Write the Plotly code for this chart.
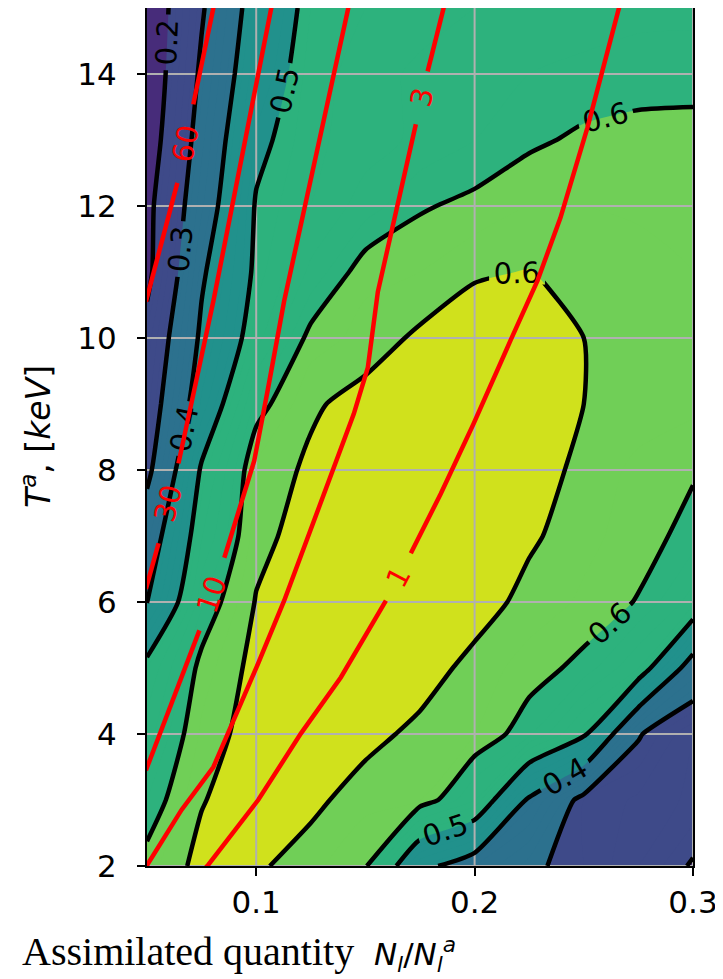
import math
import plotly.graph_objects as go

# ---------------- data ----------------
# grid of the assimilation efficiency map
x_grid = [0.05, 0.075, 0.1, 0.125, 0.15, 0.175, 0.2, 0.225, 0.25, 0.275, 0.3]
T_grid = [2, 3, 4, 5, 6, 7, 8, 9, 10, 11, 12, 13, 14, 15]

eff_T02 = [0.612, 0.650, 0.645, 0.625, 0.605, 0.420, 0.360, 0.310, 0.280, 0.240, 0.195]
eff_T03 = [0.580, 0.638, 0.660, 0.648, 0.625, 0.620, 0.560, 0.390, 0.280, 0.255, 0.235]
eff_T04 = [0.550, 0.624, 0.655, 0.660, 0.650, 0.632, 0.620, 0.585, 0.510, 0.305, 0.240]
eff_T05 = [0.520, 0.610, 0.650, 0.660, 0.665, 0.655, 0.630, 0.612, 0.592, 0.540, 0.360]
eff_T06 = [0.398, 0.577, 0.642, 0.660, 0.670, 0.670, 0.655, 0.630, 0.617, 0.598, 0.550]
eff_T07 = [0.350, 0.538, 0.630, 0.655, 0.675, 0.680, 0.670, 0.645, 0.625, 0.612, 0.590]
eff_T08 = [0.280, 0.508, 0.625, 0.645, 0.665, 0.675, 0.675, 0.655, 0.632, 0.615, 0.603]
eff_T09 = [0.250, 0.445, 0.587, 0.636, 0.650, 0.665, 0.670, 0.665, 0.640, 0.630, 0.625]
eff_T10 = [0.225, 0.413, 0.531, 0.610, 0.627, 0.645, 0.655, 0.655, 0.640, 0.625, 0.620]
eff_T11 = [0.180, 0.390, 0.511, 0.565, 0.615, 0.620, 0.637, 0.641, 0.630, 0.625, 0.620]
eff_T12 = [0.178, 0.355, 0.505, 0.540, 0.570, 0.597, 0.607, 0.620, 0.620, 0.618, 0.615]
eff_T13 = [0.155, 0.333, 0.485, 0.535, 0.550, 0.565, 0.580, 0.595, 0.605, 0.610, 0.610]
eff_T14 = [0.142, 0.312, 0.457, 0.530, 0.550, 0.565, 0.575, 0.580, 0.585, 0.588, 0.590]
eff_T15 = [0.140, 0.292, 0.437, 0.520, 0.540, 0.550, 0.560, 0.565, 0.570, 0.575, 0.575]

# contour levels
black_levels = [0.2, 0.3, 0.4, 0.5, 0.6]
top_level = 0.64          # boundary of the yellow region (labelled "0.6")
band_edges = [0.2, 0.3, 0.4, 0.5, 0.6, 0.64]

# red iso-lines (None = label gap)
red_levels = [60, 30, 10, 3, 1]
red_60_x = [0.0807, 0.0712, None, 0.0639, 0.0507, 0.0495]
red_60_y = [15.05, 13.54, None, 12.35, 10.71, 10.55]
red_30_x = [0.1075, 0.0804, 0.0644, None, 0.0553, 0.0495]
red_30_y = [15.10, 10.56, 8.10, None, 6.89, 6.20]
red_10_x = [0.1425, 0.1128, 0.1055, 0.0991, 0.0854, None, 0.0740, 0.0495]
red_10_y = [15.05, 10.56, 9.25, 8.14, 6.67, None, 5.57, 3.45]
red_3_x = [0.1862, 0.1785, None, 0.1731, 0.1557, 0.1511, 0.1447, 0.1128, 0.1009, 0.0804, 0.0658, 0.0507, 0.0495]
red_3_y = [15.05, 14.04, None, 13.24, 10.70, 9.55, 8.85, 6.02, 5.07, 3.50, 2.85, 2.05, 1.98]
red_1_x = [0.2665, 0.2516, 0.2393, 0.2288, 0.2164, 0.1995, 0.1845, 0.1708, None, 0.1594, 0.1388, 0.1205, 0.1009, 0.0781, 0.0770]
red_1_y = [15.05, 13.18, 11.82, 10.87, 9.96, 8.70, 7.64, 6.74, None, 6.02, 4.86, 4.01, 3.00, 2.02, 1.98]

x_ticks = [0.1, 0.2, 0.3]
y_ticks = [2, 4, 6, 8, 10, 12, 14]
x_range = [0.05, 0.3]
y_range = [2, 15]

# ---------------- styling ----------------
band_colors = ['#472c7a', '#3e4a89', '#2c718e', '#21918c', '#2db27d', '#70cf57', '#d0e11c']
FONT = 'DejaVu Sans'
PAGE_OFF = 8                      # default body margin of the page
W, H = 723 - PAGE_OFF, 979 - PAGE_OFF
ML, MR, MT = 147 - PAGE_OFF, 30, 0
plot_w = W - ML - MR
plot_h = 866 - PAGE_OFF - MT
MB = H - MT - plot_h

z = [eff_T02, eff_T03, eff_T04, eff_T05, eff_T06, eff_T07, eff_T08,
     eff_T09, eff_T10, eff_T11, eff_T12, eff_T13, eff_T14, eff_T15]

fill_start, fill_end, fill_step = 0.2, top_level, 0.02
lo = fill_start - fill_step / 2
hi = fill_end + fill_step / 2


def norm(v):
    return (v - lo) / (hi - lo)


colorscale = [[0.0, band_colors[0]]]
for i, edge in enumerate(band_edges):
    s = norm(edge)
    colorscale.append([s, band_colors[i]])
    colorscale.append([s, band_colors[i + 1]])
colorscale.append([1.0, band_colors[-1]])

SMOOTH = 0.6
LW = 4.5
fig = go.Figure()

# filled bands
fig.add_trace(go.Contour(
    x=x_grid, y=T_grid, z=z, autocontour=False,
    contours=dict(start=fill_start, end=fill_end, size=fill_step,
                  coloring='fill', showlines=False),
    colorscale=colorscale, showscale=False,
    line=dict(width=0, smoothing=SMOOTH), hoverinfo='skip'))

# grid lines (above the fill, below the contour lines)
gx, gy = [], []
for xv in x_ticks:
    gx += [xv, xv, None]
    gy += [y_range[0], y_range[1], None]
for yv in y_ticks:
    gx += [x_range[0], x_range[1], None]
    gy += [yv, yv, None]
fig.add_trace(go.Scatter(x=gx, y=gy, mode='lines',
                         line=dict(color='#b0b0b0', width=2),
                         hoverinfo='skip', showlegend=False))

# black labelled contour lines (overlay subplot, drawn on top)
lab_font = dict(family=FONT, size=29, color='black')
fig.add_trace(go.Contour(
    x=x_grid, y=T_grid, z=z, autocontour=False, xaxis='x2', yaxis='y2',
    contours=dict(start=black_levels[0], end=black_levels[-1],
                  size=round(black_levels[1] - black_levels[0], 3),
                  coloring='lines', showlabels=True, labelformat='.1f',
                  labelfont=lab_font),
    colorscale=[[0, 'black'], [1, 'black']], showscale=False,
    line=dict(width=LW, smoothing=SMOOTH), hoverinfo='skip'))
fig.add_trace(go.Contour(
    x=x_grid, y=T_grid, z=z, autocontour=False, xaxis='x2', yaxis='y2',
    contours=dict(start=top_level, end=top_level, size=0.1,
                  coloring='lines', showlabels=True, labelformat='.1f',
                  labelfont=lab_font),
    colorscale=[[0, 'black'], [1, 'black']], showscale=False,
    line=dict(width=LW, smoothing=SMOOTH), hoverinfo='skip'))

# red iso-lines with inline labels
kx = plot_w / (x_range[1] - x_range[0])
ky = plot_h / (y_range[1] - y_range[0])
red_curves = [(red_60_x, red_60_y), (red_30_x, red_30_y), (red_10_x, red_10_y),
              (red_3_x, red_3_y), (red_1_x, red_1_y)]
for lev, (rx, ry) in zip(red_levels, red_curves):
    fig.add_trace(go.Scatter(x=rx, y=ry, mode='lines', xaxis='x2', yaxis='y2',
                             line=dict(color='red', width=LW),
                             connectgaps=False, hoverinfo='skip', showlegend=False))
    g = rx.index(None)
    xa, ya, xb, yb = rx[g - 1], ry[g - 1], rx[g + 1], ry[g + 1]
    ang = math.degrees(math.atan2((yb - ya) * ky, (xb - xa) * kx))
    if ang > 90:
        ang -= 180
    if ang < -90:
        ang += 180
    fig.add_annotation(x=(xa + xb) / 2, y=(ya + yb) / 2, xref='x', yref='y',
                       text=str(lev), showarrow=False, textangle=-ang,
                       font=dict(family=FONT, size=29, color='red'))

axis_common = dict(showgrid=False, zeroline=False, showline=True, mirror=True,
                   linecolor='black', linewidth=2, ticks='outside', ticklen=8,
                   tickwidth=2, tickcolor='black',
                   tickfont=dict(family=FONT, size=31, color='black'))
fig.update_layout(
    width=W, height=H, margin=dict(l=ML, r=MR, t=MT, b=MB, autoexpand=False),
    paper_bgcolor='white', plot_bgcolor='white', showlegend=False,
    xaxis=dict(range=x_range, tickvals=x_ticks, ticktext=['0.1', '0.2', '0.3'], **axis_common),
    yaxis=dict(range=y_range, tickvals=y_ticks, ticklabelstandoff=14, **axis_common),
    xaxis2=dict(range=x_range, overlaying='x', visible=False),
    yaxis2=dict(range=y_range, overlaying='y', visible=False),
)

# axis titles
fig.add_annotation(
    xref='paper', yref='paper', x=(36 - PAGE_OFF - ML) / plot_w, y=0.5,
    xanchor='center', yanchor='middle',
    text='<i>T</i><sup><i>a</i></sup>, [<i>keV</i>]', textangle=-90,
    showarrow=False, font=dict(family=FONT, size=33, color='black'))
fig.add_annotation(
    xref='paper', yref='paper', x=(20 - PAGE_OFF - ML) / plot_w,
    y=(866 - 953) / plot_h,
    xanchor='left', yanchor='middle', showarrow=False,
    text=("<span style=\"font-family:'Liberation Serif',serif;font-size:40px\">"
          "Assimilated quantity</span>&nbsp;&nbsp;"
          "<i>N<sub>l</sub></i>/<i>N<sub>l</sub><sup>a</sup></i>"),
    font=dict(family=FONT, size=31, color='black'))

fig.write_html('out.html')
